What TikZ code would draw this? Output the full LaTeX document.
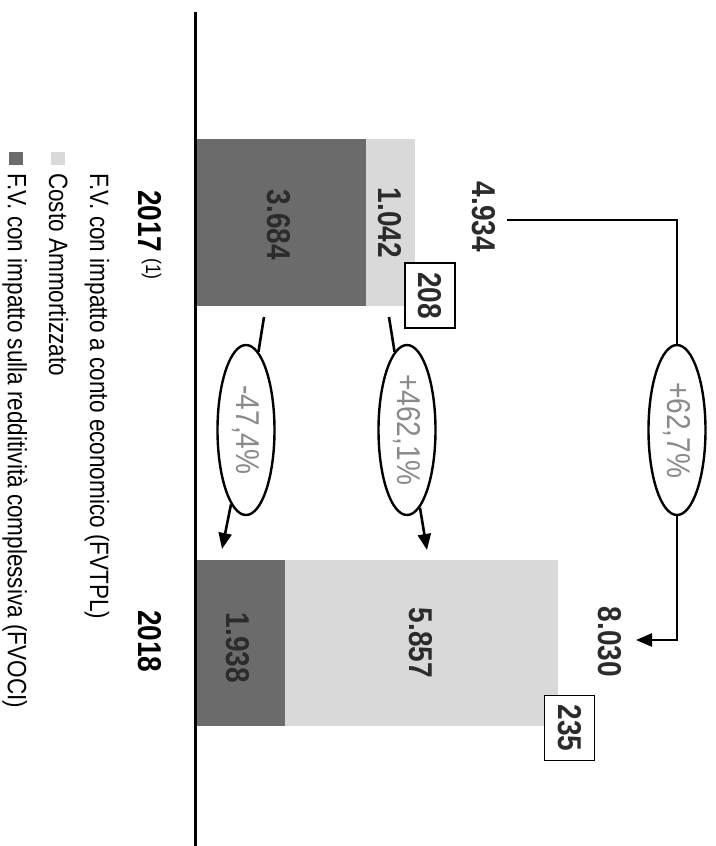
\documentclass[tikz,border=0pt]{standalone}
\usepackage{fontspec}
\setmainfont{Liberation Sans}[FakeStretch=0.85]
\usepackage{xcolor}
\usetikzlibrary{shapes.geometric, arrows.meta}

\definecolor{darkbar}{HTML}{6B6B6B}
\definecolor{lightbar}{HTML}{D9D9D9}
\definecolor{pctgray}{HTML}{8A8A8A}
\definecolor{valtext}{HTML}{2B2B2B}

\tikzset{
  lbl/.style={rotate=-90, inner sep=0pt},
  val/.style={lbl, font=\fontsize{33}{36}\selectfont\bfseries, text=valtext},
  valbox/.style={val, draw, line width=1.6pt, fill=white, minimum width=65pt, minimum height=50pt},
  pct/.style={ellipse, draw, line width=2.4pt, fill=white, rotate=-90, minimum width=170pt,
    minimum height=57pt, inner sep=0pt, text=pctgray, font=\fontsize{33}{36}\selectfont},
  leg/.style={lbl, anchor=base west, font=\fontsize{26.5}{30}\selectfont},
  conn/.style={line width=2.6pt},
  arr/.style={conn, -{Triangle[width=13pt,length=16pt]}}
}

\begin{document}
\begin{tikzpicture}[x=1pt, y=-1pt]
  \useasboundingbox (0,0) rectangle (715,846);

  % Draw bars
  \fill[darkbar] (196,139) rectangle (366,306);
  \fill[lightbar] (366,139) rectangle (415,306);
  \fill[darkbar] (196,560) rectangle (285,726);
  \fill[lightbar] (285,560) rectangle (558,726);

  % Axis
  \draw[line width=3pt] (195.5,12) -- (195.5,846);

  % Values in and beside the bars
  \node[val] (v3684) at (279,225) {3.684};
  \node[val] (v1042) at (390,223) {1.042};
  \node[valbox] (v208) at (430,295.5) {208};
  \node[val] (v4934) at (484,217) {4.934};
  \node[val] (v1938) at (238,648) {1.938};
  \node[val] (v5857) at (421,643) {5.857};
  \node[valbox] (v235) at (569.5,728) {235};
  \node[val] (v8030) at (610,642) {8.030};

  % Years
  \node[val, anchor=base west, text=black] (y2017) at (138,190)
    {2017\,\raisebox{8pt}{\mdseries\fontsize{21}{24}\selectfont(1)}};
  \node[val, anchor=base west, text=black] (y2018) at (138,610) {2018};

  % Percent changes
  \node[pct] (p627) at (677,430) {+62,7\%};
  \node[pct] (p4621) at (407,430) {+462,1\%};
  \node[pct] (p474) at (246,430) {-47,4\%};

  \coordinate (t0) at (507,220);
  \coordinate (t1) at (636,640);
  \draw[conn] (t0) -| (p627);
  \draw[arr] (p627) |- (t1);

  \coordinate (a0) at (389,317);
  \coordinate (a1) at (427,550);
  \draw[conn] (a0) -- (p4621);
  \draw[arr] (p4621) -- (a1);

  \coordinate (b0) at (264,317);
  \coordinate (b1) at (222,549);
  \draw[conn] (b0) -- (p474);
  \draw[arr] (p474) -- (b1);

  % Legend
  \fill[lightbar] (51,152) rectangle (65,165);
  \fill[darkbar] (9,152) rectangle (23,165);
  \node[leg] (l1) at (90,173) {F.V. con impatto a conto economico (FVTPL)};
  \node[leg] (l2) at (49,173) {Costo Ammortizzato};
  \node[leg] (l3) at (8,173) {F.V. con impatto sulla redditività complessiva (FVOCI)};
\end{tikzpicture}
\end{document}
